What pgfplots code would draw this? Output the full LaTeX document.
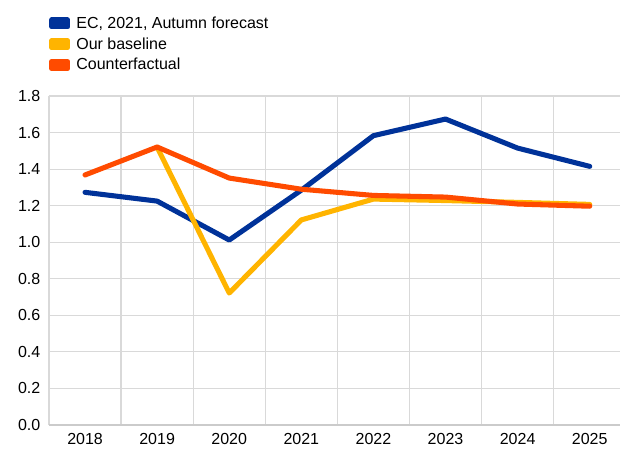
\documentclass[border=0pt]{standalone}
\usepackage{pgfplots}
\pgfplotsset{compat=1.18}
\usepackage{fontspec}
\setmainfont{Liberation Sans}
\definecolor{ecbblue}{RGB}{0,50,153}
\definecolor{ecbyellow}{RGB}{255,180,0}
\definecolor{ecborange}{RGB}{255,75,0}
\definecolor{gridgray}{RGB}{217,217,217}
\begin{document}
\begin{tikzpicture}
\useasboundingbox (0pt,0pt) rectangle (465pt,338.25pt);
\begin{axis}[
  at={(36.75pt,19.5pt)}, anchor=south west,
  scale only axis, width=428.25pt, height=246.75pt,
  xmin=-0.5, xmax=7.42, ymin=0, ymax=1.8,
  xtick={0,...,7},
  xticklabels={2018,2019,2020,2021,2022,2023,2024,2025},
  extra x ticks={-0.5,0.5,1.5,2.5,3.5,4.5,5.5,6.5},
  extra x tick labels={},
  extra x tick style={grid=major, major grid style={gridgray, line width=0.9pt}},
  ytick={0,0.2,...,1.8},
  yticklabel style={/pgf/number format/.cd,fixed,fixed zerofill,precision=1,assume math mode=true},
  xticklabel style={/pgf/number format/assume math mode=true},
  tick label style={font=\fontsize{12}{14}\selectfont, text=black},
  major tick length=0pt,
  ymajorgrids,
  grid style={gridgray, line width=0.9pt},
  axis line style={draw=none},
  xtick pos=bottom, ytick pos=left,
  xticklabel shift=3pt, yticklabel shift=3pt,
  clip=false,
  legend style={at={(0,1.25)}, anchor=north west, draw=none, fill=none, inner sep=0pt,
    font=\fontsize{12}{14}\selectfont, row sep=1.4pt,
    legend cell align=left,
    nodes={inner xsep=4.5pt}},
  legend image code/.code={\fill[#1] (0pt,-2.6pt) rectangle (12pt,2.6pt);},
]
\draw[gridgray!85!gray, line width=1pt] (axis cs:-0.5,0) -- (axis cs:7.42,0);
\addplot[ecbblue, line width=3.8pt, line join=round, line cap=round] coordinates {
 (0,1.273) (1,1.225) (2,1.012) (3,1.285) (4,1.583) (5,1.674) (6,1.515) (7,1.415)};
\addlegendentry{EC, 2021, Autumn forecast}
\addplot[ecbyellow, line width=3.8pt, line join=round, line cap=round] coordinates {
 (1,1.52) (2,0.722) (3,1.122) (4,1.236) (5,1.228) (6,1.218) (7,1.207)};
\addlegendentry{Our baseline}
\addplot[ecborange, line width=3.8pt, line join=round, line cap=round] coordinates {
 (0,1.368) (1,1.521) (2,1.351) (3,1.29) (4,1.256) (5,1.247) (6,1.209) (7,1.197)};
\addlegendentry{Counterfactual}
\end{axis}
\end{tikzpicture}
\end{document}
